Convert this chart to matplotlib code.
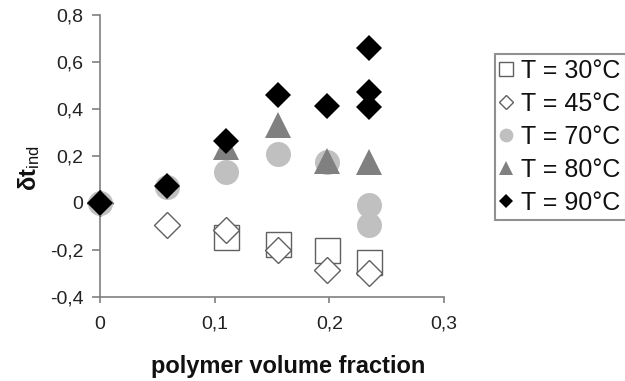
import matplotlib
matplotlib.use("Agg")
import matplotlib.pyplot as plt

plt.rcParams['font.family'] = ['Liberation Sans', 'DejaVu Sans']
plt.rcParams['mathtext.fontset'] = 'custom'
plt.rcParams['mathtext.rm'] = 'Liberation Sans'
plt.rcParams['mathtext.it'] = 'Liberation Sans'
plt.rcParams['mathtext.bf'] = 'Liberation Sans:bold'

# ---- data ----
x30 = [0.11, 0.155, 0.198, 0.235]
y30 = [-0.143, -0.175, -0.20, -0.25]

x45 = [0, 0.058, 0.11, 0.155, 0.198, 0.235]
y45 = [0, -0.094, -0.113, -0.20, -0.285, -0.30]

x70 = [0, 0.058, 0.11, 0.155, 0.198, 0.235, 0.235]
y70 = [0, 0.07, 0.132, 0.21, 0.175, -0.01, -0.094]

x80 = [0.11, 0.155, 0.198, 0.235]
y80 = [0.24, 0.33, 0.177, 0.175]

x90 = [0, 0.058, 0.11, 0.155, 0.198, 0.235, 0.235, 0.235]
y90 = [0, 0.072, 0.265, 0.46, 0.413, 0.658, 0.474, 0.407]

labels = ["T = 30°C", "T = 45°C", "T = 70°C", "T = 80°C", "T = 90°C"]
xticks = [0, 0.1, 0.2, 0.3]
xticklabels = ["0", "0,1", "0,2", "0,3"]
yticks = [-0.4, -0.2, 0, 0.2, 0.4, 0.6, 0.8]
yticklabels = ["-0,4", "-0,2", "0", "0,2", "0,4", "0,6", "0,8"]

fig = plt.figure(figsize=(6.25, 3.81), dpi=100)
ax = fig.add_axes([0.16, 0.2205, 0.5504, 0.7401])

ax.plot(x30, y30, 's', ms=18, mfc='white', mec='#606060', mew=1.0,
        clip_on=False, label=labels[0], zorder=3)
ax.plot(x45, y45, 'D', ms=13, mfc='white', mec='#606060', mew=1.0,
        clip_on=False, label=labels[1], zorder=3)
ax.plot(x70, y70, 'o', ms=18, mfc='#c0c0c0', mec='#c0c0c0', mew=0,
        clip_on=False, label=labels[2], zorder=3)
ax.plot(x80, y80, '^', ms=19, mfc='#808080', mec='#808080', mew=0,
        clip_on=False, label=labels[3], zorder=3)
ax.plot(x90, y90, 'D', ms=13, mfc='black', mec='black', mew=0,
        clip_on=False, label=labels[4], zorder=3)

ax.set_xlim(0, 0.3)
ax.set_ylim(-0.4, 0.8)
ax.set_xticks(xticks)
ax.set_xticklabels(xticklabels)
ax.set_yticks(yticks)
ax.set_yticklabels(yticklabels)

for s in ['top', 'right']:
    ax.spines[s].set_visible(False)
for s in ['left', 'bottom']:
    ax.spines[s].set_color('#808080')
    ax.spines[s].set_linewidth(1.2)

ax.tick_params(axis='x', direction='out', length=4.5, width=1.2, color='#808080',
               labelsize=14, labelcolor='#222222', pad=9)
ax.tick_params(axis='y', direction='out', length=6, width=1.2, color='#808080',
               labelsize=14, labelcolor='#222222', pad=6)

ax.set_xlabel("polymer volume fraction", fontsize=17, fontweight='bold', color='#111111')
ax.xaxis.set_label_coords(0.547, -0.205)
ax.set_ylabel(r"δt$_{\mathrm{ind}}$", fontsize=17, fontweight='bold', color='#111111')
ax.yaxis.set_label_coords(-0.17, 0.457)

leg = fig.legend(loc='upper left', bbox_to_anchor=(0.792, 0.858),
                 bbox_transform=fig.transFigure, borderaxespad=0,
                 fontsize=18, markerscale=0.55, handlelength=0.5,
                 handletextpad=0.35, borderpad=0.2, labelspacing=0.36,
                 frameon=True, fancybox=False, framealpha=1)
leg.get_frame().set_edgecolor('#909090')
leg.get_frame().set_linewidth(1.5)
for t in leg.get_texts():
    t.set_color('#111111')

fig.savefig("out.png", dpi=100)
